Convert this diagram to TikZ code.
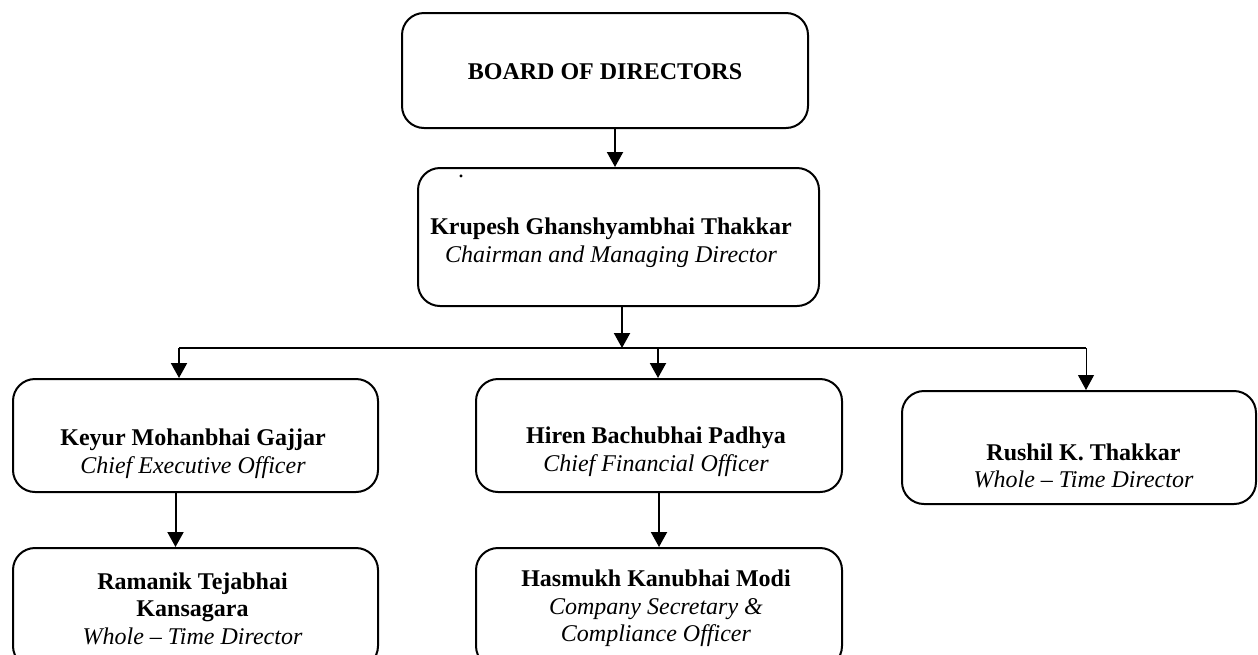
\documentclass[tikz,border=0pt]{standalone}
\usepackage{fontspec}
\setmainfont{Liberation Serif}
\usetikzlibrary{arrows.meta,positioning}
\tikzset{
  box/.style={draw,line width=1pt,rounded corners=11pt,inner sep=0pt},
  txt/.style={align=center,inner sep=0pt,font=\fontsize{12}{13.8}\selectfont},
  link/.style={line width=1pt,-{Triangle[width=8pt,length=7.5pt]}},
}
\begin{document}
\begin{tikzpicture}[x=0.5pt,y=-0.5pt]
\useasboundingbox (0,0) rectangle (1258,654);
\clip (0,0) rectangle (1258,654);
% boxes
\node[box,minimum width=203pt,minimum height=57.5pt] (board) at (605,70.5) {};
\node[box,minimum width=200.5pt,minimum height=69pt] (chair) at (618.5,237) {};
\node[box,minimum width=182.5pt,minimum height=56.5pt] (ceo) at (195.5,435.5) {};
\node[box,minimum width=183pt,minimum height=56.5pt] (cfo) at (659,435.5) {};
\node[box,minimum width=177pt,minimum height=56.5pt] (rushil) at (1079,447.5) {};
\node[box,minimum width=182.5pt,minimum height=60pt] (ramanik) at (195.5,608) {};
\node[box,minimum width=183pt,minimum height=60pt] (hasmukh) at (659,608) {};
% texts
\node[txt] (boardtxt) at (605,72) {\textbf{BOARD OF DIRECTORS}};
\node[txt] (chairdot) at (461,176) {.};
\node[txt] (chairtxt) at (611,243) {\textbf{Krupesh Ghanshyambhai Thakkar}\\ \textit{Chairman and Managing Director}};
\node[txt] (ceotxt) at (193,454) {\textbf{Keyur Mohanbhai Gajjar}\\ \textit{Chief Executive Officer}};
\node[txt] (cfotxt) at (656,451.5) {\textbf{Hiren Bachubhai Padhya}\\ \textit{Chief Financial Officer}};
\node[txt] (rushiltxt) at (1083.5,466) {\textbf{Rushil K. Thakkar}\\ \textit{Whole -- Time Director}};
\node[txt] (ramaniktxt) at (192.5,608.5) {\textbf{Ramanik Tejabhai}\\ \textbf{Kansagara}\\ \textit{Whole -- Time Director}};
\node[txt] (hasmukhtxt) at (656,608.5) {\textbf{Hasmukh Kanubhai Modi}\\ \textit{Company Secretary \&}\\ \textit{Compliance Officer}};
% connectors
\coordinate (bus) at (622,348);
\coordinate (busL) at (179,348);
\coordinate (busM) at (658,348);
\coordinate (busR) at (1086,348);
\draw[link] ([xshift=5pt]board.south) -- ([xshift=-1.75pt]chair.north);
\draw[link] ([xshift=1.75pt]chair.south) -- (bus);
\draw[line width=1pt] (busL) -- (busR);
\draw[link] (busL) -- (busL |- ceo.north);
\draw[link] (busM) -- (busM |- cfo.north);
\draw[link,line width=0.5pt] (busR) -- (busR |- rushil.north);
\draw[link] ([xshift=-10pt]ceo.south) -- ([xshift=-10pt]ramanik.north);
\draw[link] (cfo) -- (hasmukh);
\end{tikzpicture}
\end{document}
